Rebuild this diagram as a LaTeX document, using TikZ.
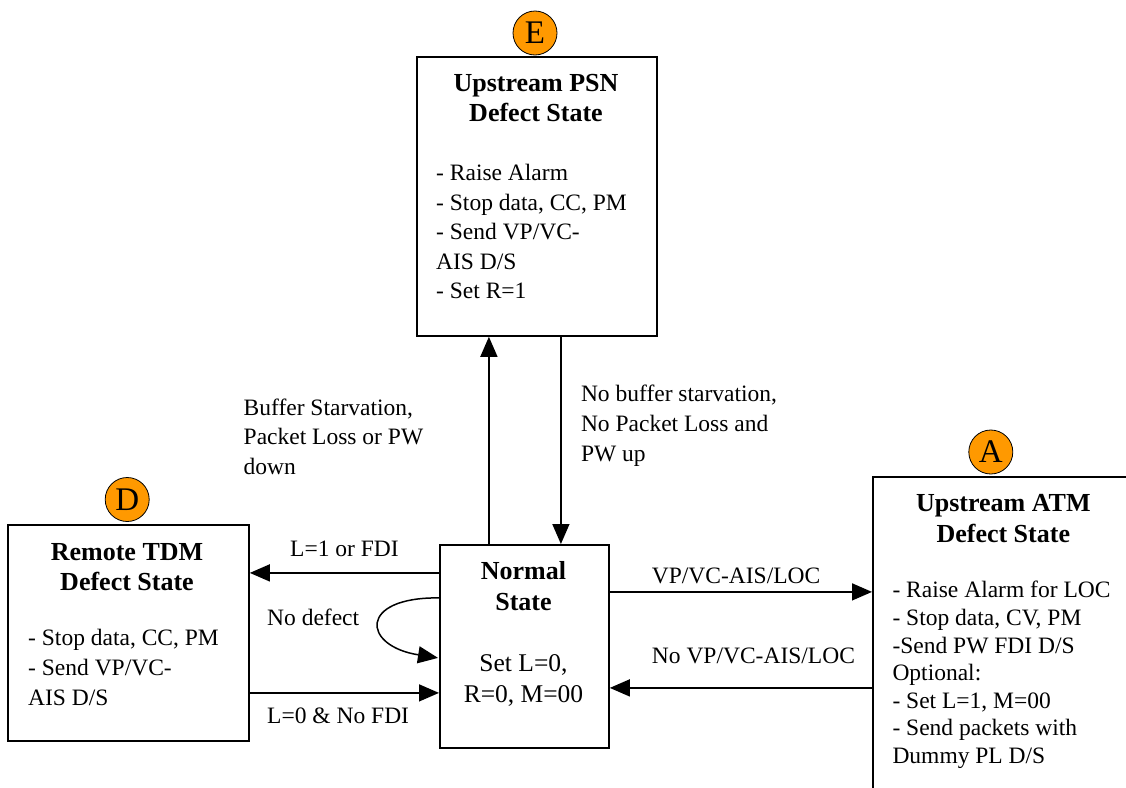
\documentclass[tikz,border=0pt]{standalone}
\usepackage{fontspec}
\setmainfont{Liberation Serif}
\usetikzlibrary{arrows.meta}
\definecolor{orng}{HTML}{FF9900}
\newcommand\firstl{\rule{0pt}{20pt}}
\tikzset{
  box/.style={draw, line width=1.8pt, inner sep=0pt, anchor=north west},
  ttl/.style={font=\fontsize{26}{30.5}\selectfont\bfseries, align=center, anchor=north, inner sep=0pt},
  body/.style={font=\fontsize{23.5}{29.4}\selectfont, align=left, anchor=north west, inner sep=0pt},
  lbl/.style={font=\fontsize{23.5}{29.6}\selectfont, inner sep=0pt},
  badge/.style={circle, draw, line width=0.8pt, fill=orng, minimum size=44pt, inner sep=0pt, font=\fontsize{33}{33}\selectfont},
  conn/.style={line width=1.5pt, -{Triangle[length=20pt,width=17pt]}},
}
\begin{document}
\begin{tikzpicture}[x=1pt,y=-1pt]
\useasboundingbox (0,0) rectangle (1126,787);
\clip (0,0) rectangle (1126,787);
% boxes
\node[box, minimum width=240pt, minimum height=279pt] (E) at (416,56) {};
\node[box, minimum width=241pt, minimum height=216pt] (D) at (7,524) {};
\node[box, minimum width=169pt, minimum height=203pt] (N) at (439,544) {};
\node[box, minimum width=300pt, minimum height=360pt] (A) at (872,476) {};
% badges
\node[badge] (bE) at (535,33) {E};
\node[badge] (bD) at (127.2,499.5) {D};
\node[badge] (bA) at (990.8,452) {A};
% box texts
\node[ttl, font=\fontsize{26}{30}\selectfont\bfseries] (Et) at (536,71.7) {\firstl Upstream PSN\\Defect State};
\node[body, font=\fontsize{23.5}{29.4}\selectfont] (Eb) at (436,160.7) {\firstl - Raise Alarm\\- Stop data, CC, PM\\- Send VP/VC-\\AIS D/S\\- Set R=1};
\node[ttl, font=\fontsize{26}{30.7}\selectfont\bfseries] (Dt) at (127,540) {\firstl Remote TDM\\Defect State};
\node[body, font=\fontsize{23.5}{29.7}\selectfont] (Db) at (28,625.7) {\firstl - Stop data, CC, PM\\- Send VP/VC-\\AIS D/S};
\node[ttl, font=\fontsize{26}{31.4}\selectfont\bfseries] (Nt) at (523.5,559.3) {\firstl Normal\\State};
\node[ttl, font=\fontsize{25.5}{31}\selectfont] (Nb) at (523.5,651.7) {\firstl Set L=0,\\R=0, M=00};
\node[ttl, font=\fontsize{26}{31}\selectfont\bfseries] (At) at (1003.3,491.7) {\firstl Upstream ATM\\Defect State};
\node[body, font=\fontsize{23.5}{27.6}\selectfont] (Ab) at (892.3,577.7) {\firstl - Raise Alarm for LOC\\- Stop data, CV, PM\\-Send PW FDI D/S\\Optional:\\- Set L=1, M=00\\- Send packets with\\Dummy PL D/S};
% connectors
\coordinate (u1) at ([xshift=-35.5pt]N.north);
\coordinate (d1) at ([xshift=36.5pt]N.north);
\draw[conn] (u1) -- (u1 |- E.south);
\draw[conn] (d1 |- E.south) -- (d1);
\coordinate (l1) at ([yshift=73.5pt]N.west);
\draw[conn] (l1) -- (D.east |- l1);
\coordinate (l2) at ([yshift=-46.5pt]N.west);
\draw[conn] (D.east |- l2) -- (l2);
\coordinate (r1) at ([yshift=54.5pt]N.east);
\draw[conn] (r1) -- (A.west |- r1);
\coordinate (r2) at ([yshift=-41.5pt]N.east);
\draw[conn] (A.west |- r2) -- (r2);
\coordinate (ls) at ([yshift=48.5pt]N.west);
\coordinate (le) at ([xshift=-1pt,yshift=-11.5pt]N.west);
\draw[conn] (ls) .. controls (358,597) and (362,646) .. (le);
% connector labels
\node[lbl, align=left, anchor=north west, font=\fontsize{23.5}{29.5}\selectfont] (lbs) at (243.5,395) {\firstl Buffer Starvation,\\Packet Loss or PW\\down};
\node[lbl, align=left, anchor=north west, font=\fontsize{23.5}{30}\selectfont] (lnbs) at (580.8,381.7) {\firstl No buffer starvation,\\No Packet Loss and\\PW up};
\node[lbl, anchor=base west] (ll1) at (290,556) {L=1 or FDI};
\node[lbl, anchor=base west] (lnd) at (267,625) {No defect};
\node[lbl, anchor=base west] (ll0) at (267,723.3) {L=0 \& No FDI};
\node[lbl, anchor=base west] (lvp) at (651.7,583.3) {VP/VC-AIS/LOC};
\node[lbl, anchor=base west] (lnvp) at (651.7,663.3) {No VP/VC-AIS/LOC};
\end{tikzpicture}
\end{document}
